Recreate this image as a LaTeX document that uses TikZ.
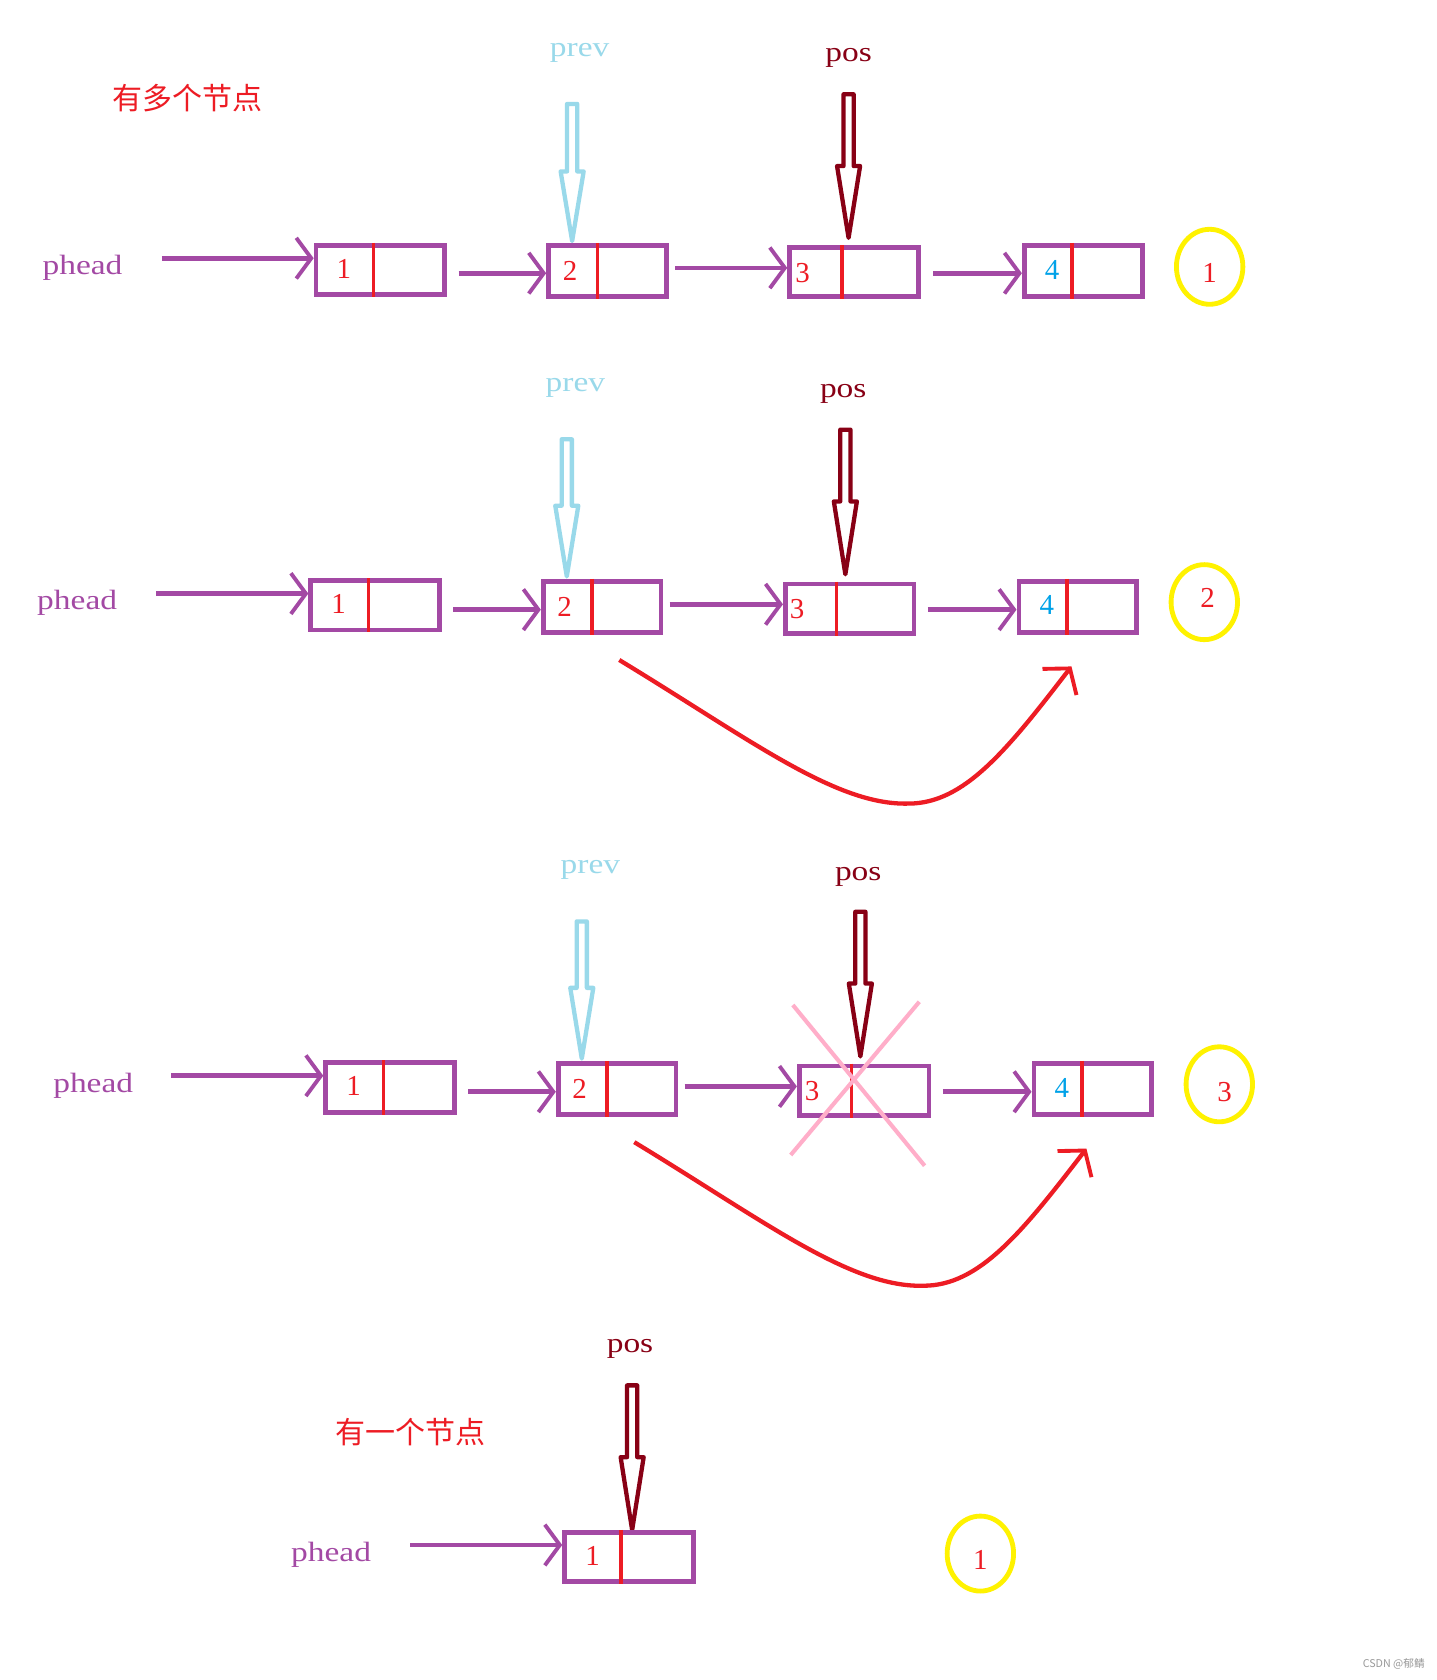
\documentclass[tikz,border=0pt]{standalone}
\usepackage{fontspec}
\setmainfont{Liberation Serif}
\newfontfamily\lblfont[FakeStretch=1.2]{Liberation Serif}
\newfontfamily\cjkfont{Noto Sans CJK SC}
\usetikzlibrary{arrows.meta,shapes.geometric,calc}
\definecolor{purp}{HTML}{A349A4}
\definecolor{pred}{HTML}{ED1C24}
\definecolor{dred}{HTML}{880015}
\definecolor{lblue}{HTML}{99D9EA}
\definecolor{yel}{HTML}{FFF200}
\definecolor{pinkx}{HTML}{FFAEC9}
\definecolor{nblue}{HTML}{00A2E8}
\definecolor{wmgray}{HTML}{9A9A9A}
% box: name, cx, cy, width, height, divider offset from left
\newcommand\llbox[6]{%
  \node[lbox, minimum width=#4, minimum height=#5] (#1) at (#2,#3) {};
  \draw[divider] ($(#1.north west)+(#6,0)$) -- ($(#1.south west)+(#6,0)$);
}
% hollow pointer arrow: color, x, top, head start, tip
\newcommand\hollowarrow[5]{%
  \draw[#1, line width=4pt, line join=round]
    (#2-4.75,#3) -- (#2+4.75,#3) -- (#2+4.75,#4) -- (#2+10.75,#4) -- (#2,#5)
    -- (#2-10.75,#4) -- (#2-4.75,#4) -- cycle;
}
\begin{document}
\begin{tikzpicture}[x=1pt,y=-1pt,
  lbox/.style={draw=purp, line width=4.5pt, rectangle, inner sep=0pt},
  divider/.style={draw=pred, line width=3.3pt},
  num/.style={text=pred, font=\fontsize{27}{27}\selectfont, inner sep=0pt},
  bnum/.style={num, text=nblue},
  lbl/.style={font=\lblfont\fontsize{26}{26}\selectfont, inner sep=0pt},
  phead/.style={lbl, text=purp},
  prevlbl/.style={lbl, text=lblue},
  poslbl/.style={lbl, text=dred},
  title/.style={text=pred, font=\cjkfont\fontsize{28}{28}\selectfont, inner sep=0pt},
  conn/.style={draw=purp, line width=4.3pt, -{Straight Barb[length=14pt,width=38pt,line width=3.6pt]}},
  redarr/.style={draw=pred, line width=4pt, -{Straight Barb[length=16pt,width=40pt,line width=3.6pt]}},
  ell/.style={ellipse, draw=yel, line width=4.5pt, minimum width=62, minimum height=70, inner sep=0pt},
  cross/.style={draw=pinkx, line width=3.8pt}
]
\useasboundingbox[fill=white] (0,0) rectangle (1341,1568);

% ================= Section 1 =================
\node[title] (t1) at (175,92) {有多个节点};
\node[prevlbl] (pv1) at (541,49) {prev};
\node[poslbl] (ps1) at (792,54) {pos};
\hollowarrow{lblue}{534}{97}{160}{225}
\hollowarrow{dred}{792}{88}{155}{222}
\node[phead] (ph1) at (77,250) {phead};
\llbox{b11}{355}{252}{120}{46}{56}
\llbox{b12}{567}{253}{110}{48}{48}
\llbox{b13}{797}{254}{120}{46}{51}
\llbox{b14}{1011}{253}{110}{48}{47}
\node[num] (n11) at (321,251) {1};
\node[num] (n12) at (532,253) {2};
\node[num] (n13) at (749,255) {3};
\node[bnum] (n14) at (982,252) {4};
\node[ell] (e1) at (1129,249) {};
\node[num] (en1) at (1129,255) {1};
\coordinate (s10) at (151,241);
\coordinate (s11) at (428,255);
\coordinate (s12) at (630,250);
\coordinate (s13) at (871,255);
\draw[conn] (s10) -- (s10 -| b11.west);
\draw[conn] (s11) -- (s11 -| b12.west);
\draw[conn] (s12) -- (s12 -| b13.west);
\draw[conn] (s13) -- (s13 -| b14.west);

% ================= Section 2 =================
\node[prevlbl] (pv2) at (537,362) {prev};
\node[poslbl] (ps2) at (787,368) {pos};
\hollowarrow{lblue}{529}{410}{472}{538}
\hollowarrow{dred}{789}{401}{468}{536}
\node[phead] (ph2) at (72,563) {phead};
\llbox{b21}{350}{565}{120}{46}{56}
\llbox{b22}{562}{566.5}{110}{48}{48}
\llbox{b23}{793}{568}{120}{46}{50}
\llbox{b24}{1006}{566.5}{110}{48}{47}
\node[num] (n21) at (316,564) {1};
\node[num] (n22) at (527,566) {2};
\node[num] (n23) at (744,568) {3};
\node[bnum] (n24) at (977,565) {4};
\node[ell] (e2) at (1124,562) {};
\node[num] (en2) at (1127,558) {2};
\coordinate (s20) at (146,554);
\coordinate (s21) at (423,569);
\coordinate (s22) at (625,564);
\coordinate (s23) at (866,569);
\draw[conn] (s20) -- (s20 -| b21.west);
\draw[conn] (s21) -- (s21 -| b22.west);
\draw[conn] (s22) -- (s22 -| b23.west);
\draw[conn] (s23) -- (s23 -| b24.west);
\coordinate (r2s) at (578,616);
\coordinate (r2e) at (1000,622);
\draw[redarr] (r2s) .. controls (700,690) and (780,752) .. (848,750)
  .. controls (900,750) and (940,700) .. (r2e);

% ================= Section 3 =================
\node[prevlbl] (pv3) at (551,812) {prev};
\node[poslbl] (ps3) at (801,818) {pos};
\hollowarrow{lblue}{543}{860}{922}{988}
\hollowarrow{dred}{803}{851}{918}{986}
\node[phead] (ph3) at (87,1013) {phead};
\llbox{b31}{364}{1015}{120}{46}{56}
\llbox{b32}{576}{1016.5}{110}{48}{48}
\llbox{b33}{806.5}{1018}{121}{46}{51}
\llbox{b34}{1020}{1016.5}{110}{48}{47}
\node[num] (n31) at (330,1014) {1};
\node[num] (n32) at (541,1016) {2};
\node[num] (n33) at (758,1018) {3};
\node[bnum] (n34) at (991,1015) {4};
\node[ell] (e3) at (1138,1012) {};
\node[num] (en3) at (1143,1019) {3};
\coordinate (s30) at (160,1004);
\coordinate (s31) at (437,1019);
\coordinate (s32) at (639,1014);
\coordinate (s33) at (880,1019);
\draw[conn] (s30) -- (s30 -| b31.west);
\draw[conn] (s31) -- (s31 -| b32.west);
\draw[conn] (s32) -- (s32 -| b33.west);
\draw[conn] (s33) -- (s33 -| b34.west);
\coordinate (r3s) at (592,1066);
\coordinate (r3e) at (1014,1072);
\draw[redarr] (r3s) .. controls (714,1140) and (794,1202) .. (862,1200)
  .. controls (914,1200) and (954,1150) .. (r3e);
\draw[cross] (740,938) -- (863,1088);
\draw[cross] (858,935) -- (738,1078);

% ================= Section 4 =================
\node[poslbl] (ps4) at (588,1259) {pos};
\hollowarrow{dred}{590}{1293}{1360}{1428}
\node[title] (t2) at (383,1337) {有一个节点};
\node[phead] (ph4) at (309,1451) {phead};
\llbox{b41}{587}{1453}{120}{46}{55}
\node[num] (n41) at (553,1452) {1};
\coordinate (s40) at (383,1442);
\draw[conn] (s40) -- (s40 -| b41.west);
\node[ell] (e4) at (915,1450) {};
\node[num] (en4) at (915,1456) {1};

% watermark
\node[text=wmgray, font=\cjkfont\fontsize{10}{10}\selectfont, inner sep=0pt, anchor=east] (wm) at (1330,1553) {CSDN @郁鲭};
\end{tikzpicture}
\end{document}
